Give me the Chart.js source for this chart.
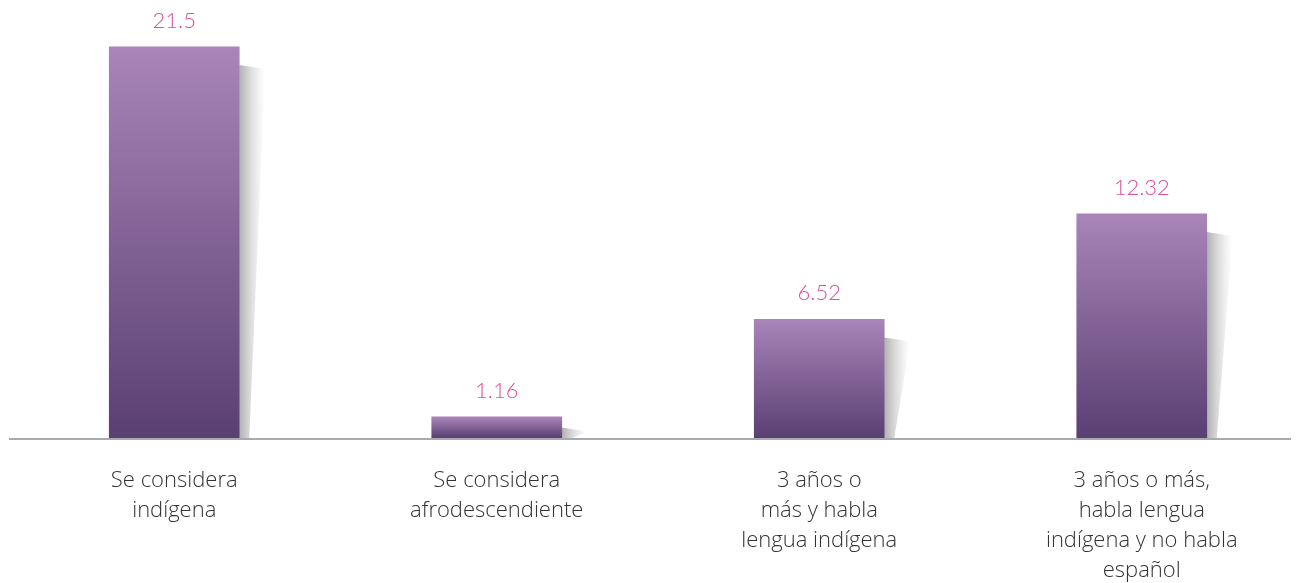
<!DOCTYPE html>
<html>
<head>
<meta charset="utf-8">
<script src="https://cdn.jsdelivr.net/npm/chart.js@4/dist/chart.umd.min.js"></script>
<style>
    html, body { margin: 0; padding: 0; background: #fff; overflow: hidden; }
    #wrap { width: 1303px; height: 583px; position: relative; }
</style>
</head>
<body>
<div id="wrap"><canvas id="barChart"></canvas></div>
<script>
const categories = [
    ['Se considera', 'indígena'],
    ['Se considera', 'afrodescendiente'],
    ['3 años o', 'más y habla', 'lengua indígena'],
    ['3 años o más,', 'habla lengua', 'indígena y no habla', 'español']
];
const values = [21.5, 1.16, 6.52, 12.32];
const valueLabels = ['21.5', '1.16', '6.52', '12.32'];

const FONT = 'Lato, "Open Sans", sans-serif';
const LABEL_FONT = '"Open Sans", Lato, sans-serif';

// grey drop shadow to the right of each bar + value labels + axis line
const decorPlugin = {
    id: 'decor',
    beforeDatasetsDraw(chart) {
        const ctx = chart.ctx;
        const meta = chart.getDatasetMeta(0);
        meta.data.forEach(bar => {
            const right = bar.x + bar.width / 2;
            const top = bar.y;
            const bottom = bar.base;
            const h = bottom - top;
            const off = Math.min(18, h * 0.5);
            const g = ctx.createLinearGradient(right, 0, right + 26, 0);
            g.addColorStop(0, 'rgba(80,80,80,0.45)');
            g.addColorStop(1, 'rgba(160,160,160,0)');
            ctx.save();
            ctx.fillStyle = g;
            ctx.beginPath();
            ctx.moveTo(right, top + off);
            ctx.lineTo(right + 26, top + off + 4);
            ctx.lineTo(right + 10, bottom);
            ctx.lineTo(right, bottom);
            ctx.closePath();
            ctx.fill();
            ctx.restore();
        });
    },
    afterDatasetsDraw(chart) {
        const ctx = chart.ctx;
        const meta = chart.getDatasetMeta(0);
        ctx.save();
        // baseline
        const yb = chart.scales.y.getPixelForValue(0);
        ctx.strokeStyle = '#a9a9b1';
        ctx.lineWidth = 2;
        ctx.beginPath();
        ctx.moveTo(9, yb + 1);
        ctx.lineTo(1291, yb + 1);
        ctx.stroke();
        // values
        ctx.fillStyle = '#dc4f9b';
        ctx.font = '300 22px ' + FONT;
        ctx.textAlign = 'center';
        ctx.textBaseline = 'middle';
        meta.data.forEach((bar, i) => {
            ctx.fillText(valueLabels[i], bar.x, bar.y - 26);
        });
        ctx.restore();
    }
};

const ctx = document.getElementById('barChart').getContext('2d');
const barChart = new Chart(ctx, {
    type: 'bar',
    data: {
        labels: categories,
        datasets: [{
            data: values,
            barThickness: 130,
            borderWidth: 0,
            backgroundColor: (c) => {
                const chart = c.chart;
                if (!chart.chartArea) return '#7d5f95';
                const y = chart.scales.y;
                const top = y.getPixelForValue(values[c.dataIndex]);
                const bottom = y.getPixelForValue(0);
                const g = chart.ctx.createLinearGradient(0, top, 0, bottom);
                g.addColorStop(0, '#a985b9');
                g.addColorStop(1, '#5a3f72');
                return g;
            }
        }]
    },
    options: {
        responsive: true,
        maintainAspectRatio: false,
        animation: false,
        layout: { padding: { left: 13, right: 0, top: 0, bottom: 0 } },
        plugins: {
            legend: { display: false },
            tooltip: { enabled: false }
        },
        scales: {
            x: {
                grid: { display: false, drawTicks: false },
                border: { display: false },
                afterFit(scale) { scale.height = 145; },
                ticks: {
                    color: '#333333',
                    font: { family: LABEL_FONT, size: 22, weight: '300', lineHeight: 1.36 },
                    padding: 28,
                    maxRotation: 0,
                    autoSkip: false
                }
            },
            y: {
                display: false,
                min: 0,
                max: 24.08
            }
        }
    },
    plugins: [decorPlugin]
});
</script>
</body>
</html>
